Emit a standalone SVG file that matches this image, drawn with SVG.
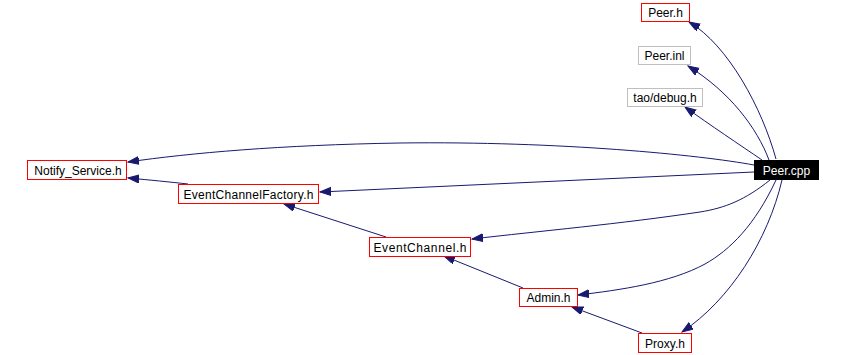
<svg xmlns="http://www.w3.org/2000/svg" width="844" height="355" viewBox="0 0 844 355">
  <style>
    .node rect { fill: #ffffff; stroke-width: 1; }
    .red rect { stroke: #ff0000; }
    .gray rect { stroke: #bfbfbf; }
    .node text { font-family: "Liberation Sans", Arial, sans-serif; font-size: 12px; fill: #000000; text-anchor: middle; }
    #n_peer_cpp rect { fill: #000000; stroke: #000000; }
    #n_peer_cpp text { fill: #ffffff; }
    .edges path { fill: none; stroke: #191970; stroke-width: 1; marker-end: url(#arrow); }
  </style>
  <defs>
    <marker id="arrow" markerUnits="userSpaceOnUse" markerWidth="13" markerHeight="10" refX="11" refY="4" orient="auto">
      <path d="M0,0 L11,4 L0,8 Z" fill="#191970" stroke="#191970" stroke-width="1"/>
    </marker>
  </defs>

  <rect width="844" height="355" fill="#ffffff"/>

  <g class="edges" id="edges">
    <path d="M776,159 C762,108 728,45 689,22"/>
    <path d="M769,160 C757,128 730,92 688,66"/>
    <path d="M762,160 C740,145 710,125 685,107"/>
    <path d="M754,165 C700,155 560,141 400,143 C280,145 190,153 128,162"/>
    <path d="M754,172 L320,192"/>
    <path d="M770,180 C745,200 725,208 700,212 C620,224 540,231 472,239"/>
    <path d="M776,180 C755,225 730,250 705,264 C670,283 620,290 578,295"/>
    <path d="M782,180 C768,240 730,300 682,332"/>
    <path d="M188,184 C170,182 150,180 128,178"/>
    <path d="M386,237 L284,204"/>
    <path d="M523,288 L444,256"/>
    <path d="M642,333 L572,307"/>
  </g>

  <g class="node red" id="n_peer_h">
    <rect x="641.5" y="3.5" width="48" height="18"/>
    <text x="665.5" y="17">Peer.h</text>
  </g>
  <g class="node gray" id="n_peer_inl">
    <rect x="638.5" y="46.5" width="52" height="18"/>
    <text x="664.5" y="60">Peer.inl</text>
  </g>
  <g class="node gray" id="n_tao_debug_h">
    <rect x="627.5" y="88.5" width="75" height="18"/>
    <text x="665" y="102">tao/debug.h</text>
  </g>
  <g class="node" id="n_peer_cpp">
    <rect x="754.5" y="160.5" width="64" height="19"/>
    <text x="786.5" y="174.5">Peer.cpp</text>
  </g>
  <g class="node red" id="n_notify_service_h">
    <rect x="27.5" y="160.5" width="99" height="19"/>
    <text x="78" y="174.5">Notify_Service.h</text>
  </g>
  <g class="node red" id="n_eventchannelfactory_h">
    <rect x="178.5" y="184.5" width="140" height="19"/>
    <text x="248.5" y="198.5" textLength="130" lengthAdjust="spacing">EventChannelFactory.h</text>
  </g>
  <g class="node red" id="n_eventchannel_h">
    <rect x="369.5" y="237.5" width="101" height="19"/>
    <text x="420" y="251.5" textLength="93" lengthAdjust="spacing">EventChannel.h</text>
  </g>
  <g class="node red" id="n_admin_h">
    <rect x="519.5" y="288.5" width="58" height="18"/>
    <text x="548.5" y="302">Admin.h</text>
  </g>
  <g class="node red" id="n_proxy_h">
    <rect x="638.5" y="333.5" width="53" height="19"/>
    <text x="665" y="347.5">Proxy.h</text>
  </g>
</svg>
